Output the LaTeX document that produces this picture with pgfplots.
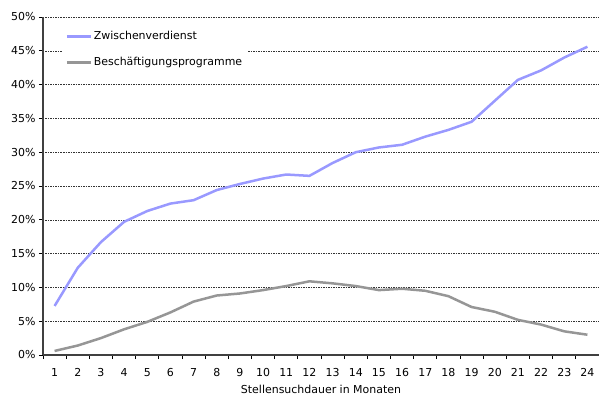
\documentclass[border=0pt]{standalone}
\usepackage{fontspec}
\setmainfont{DejaVu Sans}
\usepackage{pgfplots}
\pgfplotsset{compat=1.18}
\usetikzlibrary{calc}
\definecolor{zwv}{RGB}{153,153,255}
\definecolor{bep}{RGB}{150,150,150}
\begin{document}
\begin{tikzpicture}
\begin{axis}[
    name=ax,
    scale only axis,
    width=556bp, height=338bp,
    xmin=0.5, xmax=24.5,
    ymin=0, ymax=50,
    axis x line*=bottom,
    axis y line*=left,
    xtick={1,...,24},
    minor xtick={0.5,1.5,...,24.5},
    major x tick style={draw=none},
    minor x tick style={black, thick},
    minor tick length=4bp,
    ytick={0,5,...,50},
    yticklabel={\pgfmathprintnumber{\tick}\%},
    y tick style={black, thick},
    tick align=outside,
    major tick length=4bp,
    ymajorgrids,
    major grid style={black!80, dash pattern=on 1.5bp off 1bp, line width=0.5bp},
    axis line style={black!75, line width=1.2bp},
    tick label style={font=\fontsize{11}{13}\selectfont},
    xticklabel style={yshift=-6bp},
    /pgf/number format/assume math mode=true,
    xlabel={Stellensuchdauer in Monaten},
    xlabel style={font=\fontsize{11}{13}\selectfont, yshift=-2bp},
    legend style={at={(0.033,0.975)}, anchor=north west, draw=none, fill=white,
        font=\fontsize{11}{13}\selectfont, row sep=12bp, inner xsep=4bp, inner ysep=4bp},
    legend cell align=left,
    legend image code/.code={\draw[#1, line width=2.5bp] (0cm,0cm) -- (0.33in,0cm);},
    every axis plot/.append style={line width=2.5bp, line join=round},
]
\addplot[zwv] coordinates {
(1,7.25) (2,12.9) (3,16.7) (4,19.7) (5,21.3) (6,22.4) (7,22.9) (8,24.4)
(9,25.3) (10,26.1) (11,26.7) (12,26.5) (13,28.4) (14,30.0) (15,30.7) (16,31.1)
(17,32.3) (18,33.3) (19,34.5) (20,37.6) (21,40.7) (22,42.1) (23,44.0) (24,45.6)};
\addlegendentry{Zwischenverdienst}
\addplot[bep] coordinates {
(1,0.6) (2,1.4) (3,2.5) (4,3.8) (5,4.9) (6,6.3) (7,7.9) (8,8.8)
(9,9.1) (10,9.6) (11,10.2) (12,10.9) (13,10.6) (14,10.2) (15,9.6) (16,9.8)
(17,9.5) (18,8.7) (19,7.1) (20,6.4) (21,5.2) (22,4.5) (23,3.5) (24,3.0)};
\addlegendentry{Beschäftigungsprogramme}
\end{axis}
\pgfresetboundingbox
\path[use as bounding box] ($(ax.south west)+(-43bp,-48bp)$) rectangle ($(ax.north east)+(0bp,17bp)$);
\end{tikzpicture}
\end{document}
